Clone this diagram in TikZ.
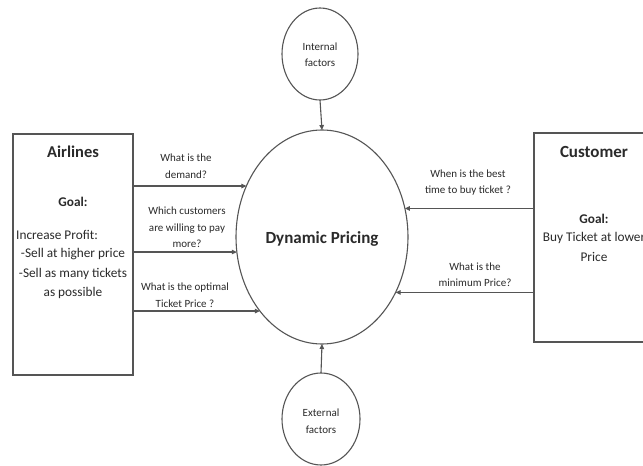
\documentclass[tikz,border=0pt]{standalone}
\usepackage{fontspec}
\setmainfont{Carlito}
\usetikzlibrary{arrows.meta,shapes.geometric}
\definecolor{linec}{HTML}{555555}
\definecolor{textc}{HTML}{2A2A2A}
\tikzset{
  conn/.style={draw=linec, line width=1.1pt, -{Triangle[length=5pt,width=4.5pt]}},
  boxnode/.style={draw=linec, line width=1.1pt, rectangle, inner sep=0pt},
  ovalnode/.style={draw=linec, line width=1.1pt, ellipse, inner sep=0pt, outer sep=0pt},
  qlabel/.style={text=textc, align=center, inner sep=0pt, font=\fontsize{11}{16.5}\selectfont},
  boxtext/.style={text=textc, align=center, inner sep=0pt, font=\fontsize{13.3}{19.5}\selectfont},
  titletext/.style={text=textc, inner sep=0pt, font=\fontsize{17}{20}\selectfont\bfseries},
  goaltext/.style={text=textc, inner sep=0pt, font=\fontsize{13.3}{16}\selectfont\bfseries},
}
\begin{document}
\begin{tikzpicture}[x=1pt,y=-1pt]
\useasboundingbox (0,0) rectangle (643,466);
\clip (0,0) rectangle (643,466);
\fill[white] (0,0) rectangle (643,466);

% main ellipse
\node[ovalnode, minimum width=172pt, minimum height=214pt] (dp) at (322,237) {};
\node[titletext] (dptext) at (322,239) {Dynamic Pricing};

% factor ellipses
\node[ovalnode, minimum width=76pt, minimum height=92pt] (int) at (320,54) {};
\node[qlabel, font=\fontsize{11}{16}\selectfont] (inttext) at (320,55) {Internal\\factors};
\node[ovalnode, minimum width=78pt, minimum height=92pt] (ext) at (321,419) {};
\node[qlabel, font=\fontsize{11}{17}\selectfont] (exttext) at (321,421) {External\\factors};

% boxes
\node[boxnode, minimum width=120pt, minimum height=241pt] (air) at (73,254.5) {};
\node[boxnode, minimum width=140pt, minimum height=209pt] (cus) at (604,237.5) {};

% Airlines text
\node[titletext, font=\fontsize{16.5}{20}\selectfont\bfseries] (airtitle) at (73,152) {Airlines};
\node[goaltext] (airgoal) at (73,202) {Goal:};
\node[boxtext, anchor=west] (airinc) at (16,235) {Increase Profit:};
\node[boxtext] (airlist) at (73,273.5) {-Sell at higher price\\-Sell as many tickets\\as possible};

% Customer text
\node[titletext] (custitle) at (594,152) {Customer};
\node[goaltext] (cusgoal) at (594,219) {Goal:};
\node[boxtext, font=\fontsize{13.3}{20}\selectfont] (cusbuy) at (594,247) {Buy Ticket at lower\\Price};

% connectors
\draw[conn] (int.south) -- (dp.north);
\draw[conn] (ext.north) -- (dp.south);
\draw[conn] (air.east |- dp.146.66) -- (dp.146.66);
\draw[conn] (air.east |- dp.190.66) -- (dp.190.66);
\draw[conn] (air.east |- dp.230.72) -- (dp.230.72);
\draw[conn] (cus.west |- dp.19.31) -- (dp.19.31);
\draw[conn] (cus.west |- dp.323.3) -- (dp.323.3);

% connector labels
\node[qlabel] (q1) at (186,166) {What is the\\demand?};
\node[qlabel] (q2) at (187,227.5) {Which customers\\are willing to pay\\more?};
\node[qlabel] (q3) at (185,295) {What is the optimal\\Ticket Price ?};
\node[qlabel] (q4) at (468,182.5) {When is the best\\time to buy ticket ?};
\node[qlabel] (q5) at (475,274.5) {What is the\\minimum Price?};
\end{tikzpicture}
\end{document}
